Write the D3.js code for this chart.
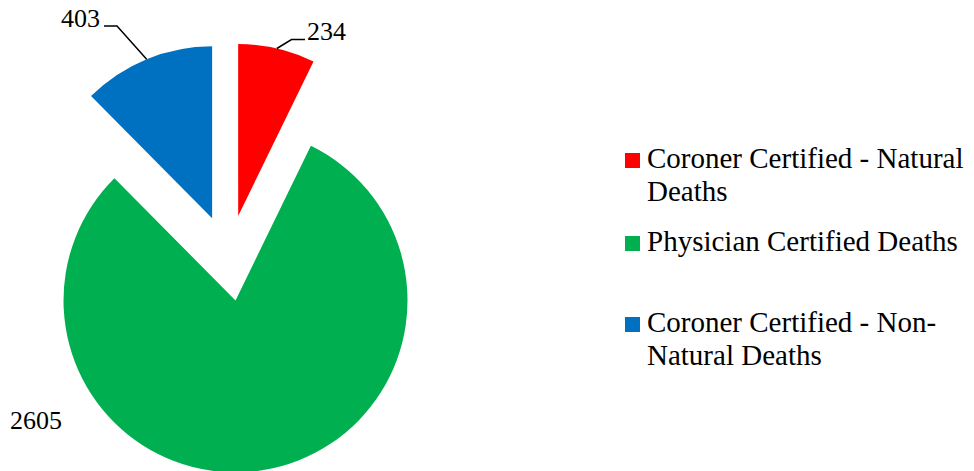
<!DOCTYPE html>
<html>
<head>
<meta charset="utf-8">
<script src="https://cdn.jsdelivr.net/npm/d3@7"></script>
<style>
  body { margin: 0; background: #fff; }
</style>
</head>
<body>
<div id="vis"></div>
<script>
// chart data
var categories = ["Coroner Certified - Natural Deaths", "Physician Certified Deaths", "Coroner Certified - Non-Natural Deaths"];
var values = [234, 2605, 403];
var colors = ["#FF0000", "#00B050", "#0070C0"];
var legendLines = [["Coroner Certified - Natural", "Deaths"], ["Physician Certified Deaths"], ["Coroner Certified - Non-", "Natural Deaths"]];

var width = 974, height = 471;
var cx = 228.5, cy = 258, radius = 172, explode = 43;
var fontFamily = "Liberation Serif, DejaVu Serif, serif";

// label layout: where each value label sits, and leader elbow (null = no leader)
var labelLayout = [
    { x: 307, y: 40, anchor: "start", elbow: [[291.5, 39.5], [305, 39.5]] },
    { x: 10, y: 429, anchor: "start", elbow: null },
    { x: 100, y: 27, anchor: "end", elbow: [[117, 26], [104, 26]] }
];

var svg = d3.select("#vis").append("svg")
    .attr("width", width)
    .attr("height", height);

var pie = d3.pie().sort(null).value(function(d) { return d; });
var arcs = pie(values);

var arc = d3.arc().innerRadius(0).outerRadius(radius);

function offset(d)
{
    var a = (d.startAngle + d.endAngle) / 2;
    return [cx + explode * Math.sin(a), cy - explode * Math.cos(a)];
}

svg.append("g").selectAll("path")
    .data(arcs)
    .enter().append("path")
    .attr("transform", function(d) { var o = offset(d); return "translate(" + o[0] + "," + o[1] + ")"; })
    .attr("d", arc)
    .attr("fill", function(d, i) { return colors[i]; });

// leader lines and value labels
var line = d3.line();
arcs.forEach(function(d, i)
{
    var lay = labelLayout[i];
    if (lay.elbow)
    {
        var o = offset(d);
        var a = (d.startAngle + d.endAngle) / 2;
        var start = [o[0] + radius * Math.sin(a), o[1] - radius * Math.cos(a)];
        svg.append("path")
            .attr("d", line([start].concat(lay.elbow)))
            .attr("fill", "none")
            .attr("stroke", "#000")
            .attr("stroke-width", 1.5);
    }
    svg.append("text")
        .attr("x", lay.x)
        .attr("y", lay.y)
        .attr("text-anchor", lay.anchor)
        .attr("font-family", fontFamily)
        .attr("font-size", 26)
        .attr("fill", "#000")
        .text(values[i]);
});

// legend
var legendX = 625, legendY = [153, 236, 317], lineGap = 33;
var legend = svg.append("g").selectAll("g")
    .data(categories)
    .enter().append("g")
    .attr("transform", function(d, i) { return "translate(" + legendX + "," + legendY[i] + ")"; });

legend.append("rect")
    .attr("width", 15)
    .attr("height", 15)
    .attr("fill", function(d, i) { return colors[i]; });

legend.each(function(d, i)
{
    var t = d3.select(this).append("text")
        .attr("x", 22)
        .attr("y", 15)
        .attr("font-family", fontFamily)
        .attr("font-size", 29)
        .attr("fill", "#000");
    legendLines[i].forEach(function(s, j)
    {
        t.append("tspan")
            .attr("x", 22)
            .attr("dy", j === 0 ? 0 : lineGap)
            .text(s);
    });
});
</script>
</body>
</html>
